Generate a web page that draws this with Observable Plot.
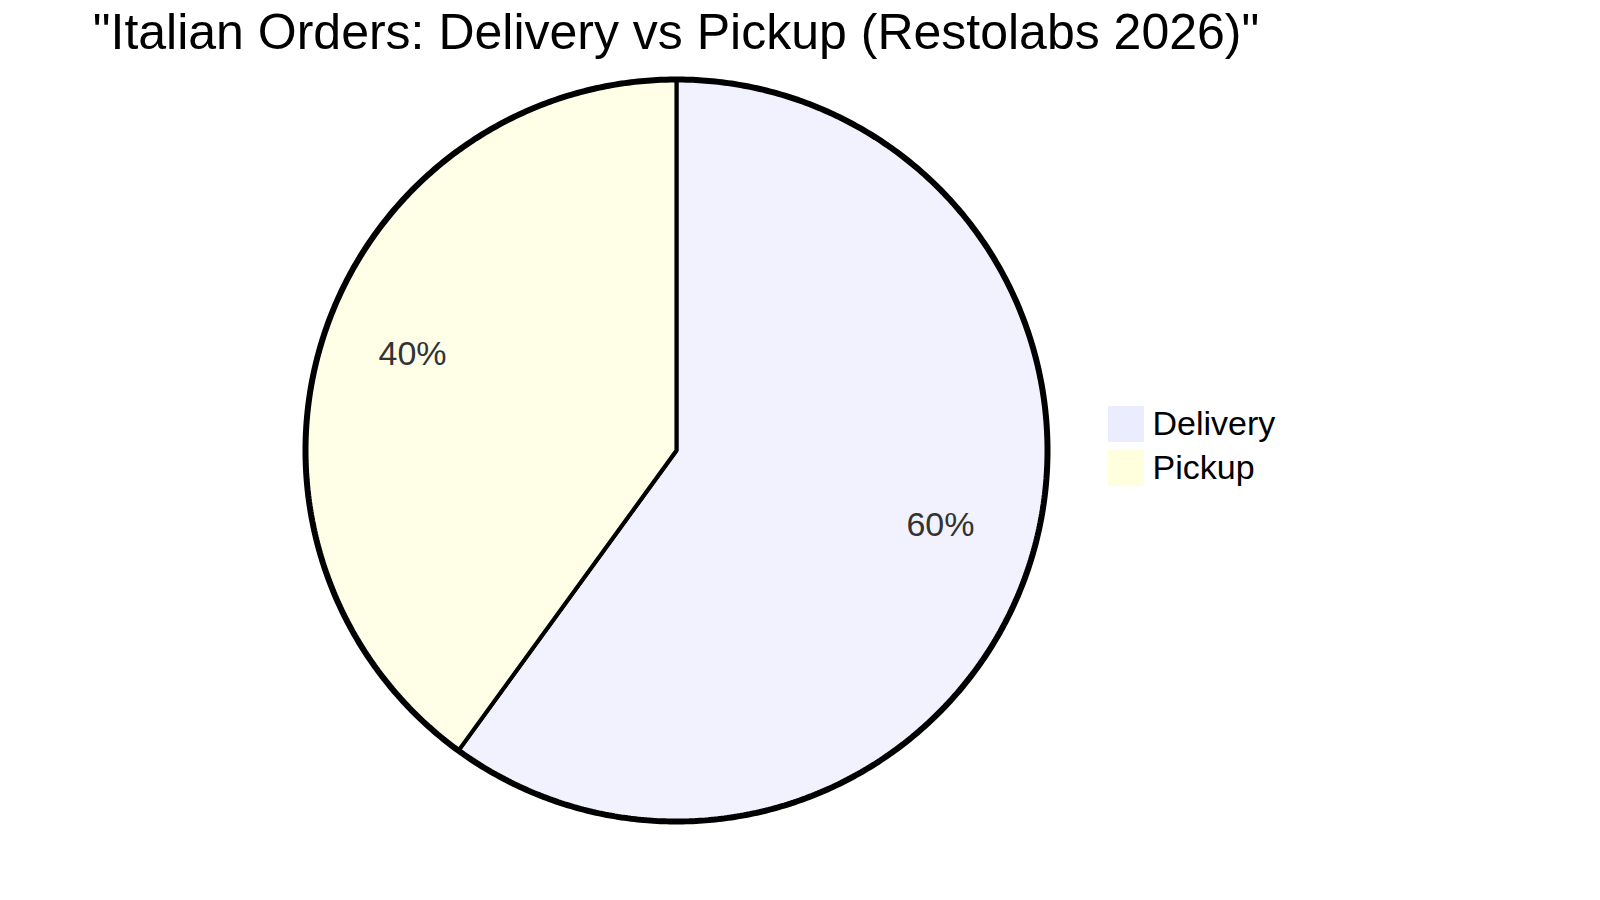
<!DOCTYPE html>
<html>
<head>
<meta charset="utf-8">
<script src="https://cdn.jsdelivr.net/npm/d3@7"></script>
<script src="https://cdn.jsdelivr.net/npm/@observablehq/plot@0.6"></script>
<style>
  html, body { margin: 0; padding: 0; background: #ffffff; }
  body { width: 1600px; height: 900px; overflow: hidden; font-family: "Liberation Sans", Arial, sans-serif; }
  #title { width: 1352px; height: 65px; line-height: 65px; font-size: 50px; text-align: center; color: #000; white-space: nowrap; }
  #chart svg { display: block; }
</style>
</head>
<body>
<div id="title"></div>
<div id="chart"></div>
<script>
// ---- data ----
const titleText = "\"Italian Orders: Delivery vs Pickup (Restolabs 2026)\"";
const categories = ["Delivery", "Pickup"];
const values = [60, 40];
const colors = ["#ECECFF", "#FFFFDE"];

// ---- layout (pixels) ----
const W = 1600, H = 835;
const CX = 676, CY = 385, R = 370;      // pie centre and radius inside the SVG
const S = 2;                             // drawing scale
const outerR = (R + S) / R;              // outer ring radius in data units
const legendX = CX + 12 * 18 * S;        // legend rect left
const legendRect = 18 * S, legendStep = 22 * S;
const legendTop0 = CY - legendStep * categories.length / 2;

document.getElementById("title").textContent = titleText;

// pie geometry from the values
const total = d3.sum(values);
const arcs = d3.pie().sort(null)(values);
const slicePts = arcs.flatMap((a, i) => {
  const pts = [{cat: categories[i], u: 0, v: 0}];
  const n = Math.max(2, Math.ceil((a.endAngle - a.startAngle) / (Math.PI / 360)));
  for (let k = 0; k <= n; k++) {
    const t = a.startAngle + (a.endAngle - a.startAngle) * k / n;
    pts.push({cat: categories[i], u: Math.sin(t), v: Math.cos(t)});
  }
  return pts;
});
const ringPts = d3.range(0, 720).map(k => {
  const t = k / 720 * 2 * Math.PI;
  return {u: outerR * Math.sin(t), v: outerR * Math.cos(t)};
});
const labels = arcs.map((a, i) => {
  const m = (a.startAngle + a.endAngle) / 2;
  return {cat: categories[i], u: 0.75 * Math.sin(m), v: 0.75 * Math.cos(m),
          text: (values[i] / total * 100).toFixed(0) + "%"};
});
// legend in data units
const px2u = px => (px - CX) / R;
const py2v = py => (CY - py) / R;
const legend = categories.map((c, i) => ({
  cat: c,
  x1: px2u(legendX), x2: px2u(legendX + legendRect),
  y1: py2v(legendTop0 + i * legendStep), y2: py2v(legendTop0 + i * legendStep + legendRect),
  tx: px2u(legendX + legendRect + 4 * S),
  ty: py2v(legendTop0 + i * legendStep + (legendRect - 4 * S))
}));

const chart = Plot.plot({
  width: W,
  height: H,
  margin: 0,
  style: {fontFamily: "'Liberation Sans', Arial, sans-serif", background: "#ffffff", overflow: "visible"},
  x: {domain: [-1, 1], range: [CX - R, CX + R], axis: null},
  y: {domain: [-1, 1], range: [CY + R, CY - R], axis: null},
  color: {type: "ordinal", domain: categories, range: colors},
  marks: [
    Plot.line(slicePts, {x: "u", y: "v", z: "cat", fill: "cat", fillOpacity: 0.7,
      stroke: "#000", strokeWidth: 2 * S, strokeLinejoin: "miter", curve: "linear-closed"}),
    Plot.line(ringPts, {x: "u", y: "v", stroke: "#000", strokeWidth: 2 * S, fill: "none", curve: "linear-closed"}),
    Plot.text(labels, {x: "u", y: "v", text: "text", fill: "#333", fontSize: 17 * S,
      textAnchor: "middle", lineAnchor: "bottom"}),
    Plot.rect(legend, {x1: "x1", x2: "x2", y1: "y1", y2: "y2", fill: "cat"}),
    Plot.text(legend, {x: "tx", y: "ty", text: "cat", fill: "#000", fontSize: 17 * S,
      textAnchor: "start", lineAnchor: "bottom"})
  ]
});
document.getElementById("chart").appendChild(chart);
</script>
</body>
</html>
